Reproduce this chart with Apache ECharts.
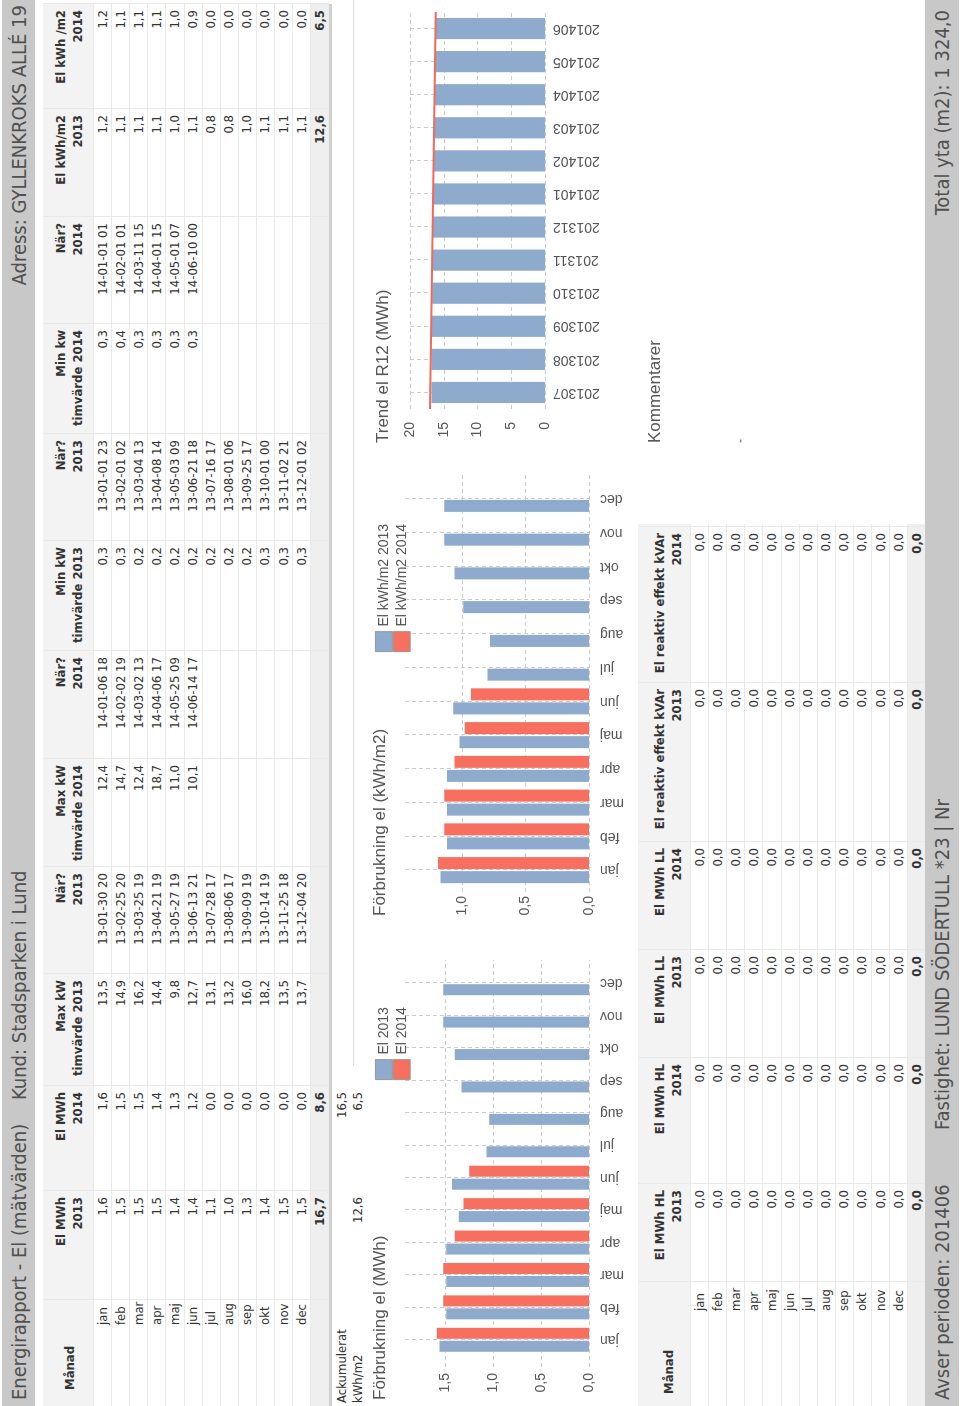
<!DOCTYPE html>
<html><head><meta charset="utf-8">
<script src="https://cdn.jsdelivr.net/npm/echarts@6/dist/echarts.min.js"></script>
<style>
html,body{margin:0;padding:0;width:960px;height:1406px;overflow:hidden;background:#fff}
#page{position:absolute;left:0;top:0;width:1406px;height:960px;transform-origin:0 0;transform:translate(0px,1406px) rotate(-90deg);background:#fff;overflow:hidden}
#chart{position:absolute;left:0;top:0;width:1406px;height:960px}
#ov{position:absolute;left:0;top:0;width:1406px;height:960px;pointer-events:none}
.t{position:absolute;white-space:nowrap;font-family:"DejaVu Sans Condensed","DejaVu Sans",sans-serif;font-stretch:condensed;color:#333}
</style></head>
<body><div id="page"><div id="ov"></div><div id="chart"></div></div>
<script>
// ---------- texts ----------
const reportTitle = 'Energirapport - El (mätvärden)';
const customerText = 'Kund: Stadsparken i Lund';
const addressText = 'Adress: GYLLENKROKS ALLÉ 19';
const periodText = 'Avser perioden: 201406';
const propertyText = 'Fastighet: LUND SÖDERTULL *23 | Nr';
const areaText = 'Total yta (m2): 1 324,0';

// ---------- table 1 ----------
const months = ['jan','feb','mar','apr','maj','jun','jul','aug','sep','okt','nov','dec'];
const t1Headers = [['Månad'],['El MWh','2013'],['El MWh','2014'],['Max kW','timvärde 2013'],['När?','2013'],['Max kW','timvärde 2014'],['När?','2014'],['Min kW','timvärde 2013'],['När?','2013'],['Min kw','timvärde 2014'],['När?','2014'],['El kWh/m2','2013'],['El kWh /m2','2014']];
const elMWh2013 = [1.6,1.5,1.5,1.5,1.4,1.4,1.1,1.0,1.3,1.4,1.5,1.5];
const elMWh2014 = [1.6,1.5,1.5,1.4,1.3,1.2,0.0,0.0,0.0,0.0,0.0,0.0];
const maxKW2013 = [13.5,14.9,16.2,14.4,9.8,12.7,13.1,13.2,16.0,18.2,13.5,13.7];
const maxKW2013When = ['13-01-30 20','13-02-25 20','13-03-25 19','13-04-21 19','13-05-27 19','13-06-13 21','13-07-28 17','13-08-06 17','13-09-09 19','13-10-14 19','13-11-25 18','13-12-04 20'];
const maxKW2014 = [12.4,14.7,12.4,18.7,11.0,10.1];
const maxKW2014When = ['14-01-06 18','14-02-02 19','14-03-02 13','14-04-06 17','14-05-25 09','14-06-14 17'];
const minKW2013 = [0.3,0.3,0.2,0.2,0.2,0.2,0.2,0.2,0.2,0.3,0.3,0.3];
const minKW2013When = ['13-01-01 23','13-02-01 02','13-03-04 13','13-04-08 14','13-05-03 09','13-06-21 18','13-07-16 17','13-08-01 06','13-09-25 17','13-10-01 00','13-11-02 21','13-12-01 02'];
const minKW2014 = [0.3,0.4,0.3,0.3,0.3,0.3];
const minKW2014When = ['14-01-01 01','14-02-01 01','14-03-11 15','14-04-01 15','14-05-01 07','14-06-10 00'];
const kWhm2_2013 = [1.2,1.1,1.1,1.1,1.0,1.1,0.8,0.8,1.0,1.1,1.1,1.1];
const kWhm2_2014 = [1.2,1.1,1.1,1.1,1.0,0.9,0.0,0.0,0.0,0.0,0.0,0.0];
const totalMWh2013 = 16.7, totalMWh2014 = 8.6, totalKWhm2_2013 = 12.6, totalKWhm2_2014 = 6.5;
const accLabel = 'Ackumulerat', accMWh2014 = 16.5;
const perM2Label = 'kWh/m2', perM2_2013 = 12.6, perM2_2014 = 6.5;

// ---------- table 2 ----------
const t2Headers = [['Månad'],['El MWh HL','2013'],['El MWh HL','2014'],['El MWh LL','2013'],['El MWh LL','2014'],['El reaktiv effekt kVAr','2013'],['El reaktiv effekt kVAr','2014']];
const elHL2013 = [0,0,0,0,0,0,0,0,0,0,0,0];
const elHL2014 = [0,0,0,0,0,0,0,0,0,0,0,0];
const elLL2013 = [0,0,0,0,0,0,0,0,0,0,0,0];
const elLL2014 = [0,0,0,0,0,0,0,0,0,0,0,0];
const kVAr2013 = [0,0,0,0,0,0,0,0,0,0,0,0];
const kVAr2014 = [0,0,0,0,0,0,0,0,0,0,0,0];
const t2Totals = [0,0,0,0,0,0];

// ---------- charts ----------
const chart1Title = 'Förbrukning el (MWh)';
const chart1Series = ['El 2013','El 2014'];
const chartMWh2013 = [1.56,1.49,1.49,1.49,1.36,1.43,1.07,1.04,1.33,1.40,1.52,1.52];
const chartMWh2014 = [1.59,1.52,1.52,1.40,1.31,1.25,0,0,0,0,0,0];
const chart2Title = 'Förbrukning el (kWh/m2)';
const chart2Series = ['El kWh/m2 2013','El kWh/m2 2014'];
const chartKWhm2_2013 = [1.17,1.12,1.12,1.12,1.02,1.07,0.80,0.78,0.99,1.06,1.14,1.14];
const chartKWhm2_2014 = [1.19,1.14,1.14,1.06,0.98,0.93,0,0,0,0,0,0];
const chart3Title = 'Trend el R12 (MWh)';
const r12Periods = ['201307','201308','201309','201310','201311','201312','201401','201402','201403','201404','201405','201406'];
const r12Values = [16.8,16.8,16.8,16.7,16.7,16.6,16.6,16.5,16.4,16.4,16.3,16.2];
const r12TrendStart = 17.05, r12TrendEnd = 16.2;
const commentsTitle = 'Kommentarer';
const commentsText = '-';

// ---------- layout helpers ----------
const ov = document.getElementById('ov');
function box(x,y,w,h,c){const d=document.createElement('div');d.style.cssText=`position:absolute;left:${x}px;top:${y}px;width:${w}px;height:${h}px;background:${c}`;ov.appendChild(d);}
function txt(s,x,y,o){o=o||{};const d=document.createElement('div');d.className='t';d.textContent=s;
  const fs=o.size||13, lh=Math.round(fs*1.3);
  d.style.fontSize=fs+'px';d.style.lineHeight=lh+'px';d.style.top=(y-lh/2)+'px';
  if(o.bold)d.style.fontWeight='bold'; if(o.color)d.style.color=o.color; if(o.font){d.style.fontFamily=o.font;d.style.fontStretch='normal';}
  if(o.align==='left'){d.style.left=x+'px';} else {d.style.left=(x-500)+'px';d.style.width='500px';d.style.textAlign='right';}
  ov.appendChild(d);}
const fmt = v => (typeof v === 'number') ? v.toFixed(1).replace('.',',') : v;

// bands
box(0,2,1406,33,'#c8c8c8');
txt(reportTitle,6,19,{size:20,align:'left',color:'#505050'});
txt(customerText,306,19,{size:20,align:'left',color:'#505050'});
txt(addressText,1401,19,{size:20,color:'#505050'});
box(0,925,1406,34,'#c8c8c8');
txt(periodText,6,942,{size:20,align:'left',color:'#505050'});
txt(propertyText,276,942,{size:20,align:'left',color:'#505050'});
txt(areaText,1396,942,{size:20,color:'#505050'});

// table 1
const t1Data = [elMWh2013,elMWh2014,maxKW2013,maxKW2013When,maxKW2014,maxKW2014When,minKW2013,minKW2013When,minKW2014,minKW2014When,kWhm2_2013,kWhm2_2014];
const t1Right = [209,314,426,533,641,749,859,966,1076,1183,1291,1396];
const t1Tot = {0:totalMWh2013,1:totalMWh2014,10:totalKWhm2_2013,11:totalKWhm2_2014};
const P = 18.1;
box(0,43,1402,50,'#f3f3f3');
box(0,310,1402,19,'#efefef');
for(let i=0;i<=12;i++) box(0,Math.round(93+i*P),1402,1,'#e9e9e9');
box(106,43,1,286,'#e9e9e9');
t1Right.forEach(x=>box(x+6,43,1,286,'#e9e9e9'));
box(0,329,1402,3,'#d0d0d0');
box(340,353,1066,1,'#dedede');
txt(t1Headers[0][0],16,69,{bold:true,align:'left'});
t1Right.forEach((x,c)=>{
  txt(t1Headers[c+1][0],x,60,{bold:true});
  txt(t1Headers[c+1][1],x,77,{bold:true});
  t1Data[c].forEach((v,i)=>txt(fmt(v),x,102+i*P));
  if(t1Tot[c]!==undefined) txt(fmt(t1Tot[c]),x,319.5,{bold:true});
});
months.forEach((m,i)=>txt(m,81,102+i*P,{align:'left'}));
txt(accLabel,3,341,{align:'left'});
txt(fmt(accMWh2014),314,341);
txt(perM2Label,3,357,{align:'left'});
txt(fmt(perM2_2013),209,357);
txt(fmt(perM2_2014),314,357);

// table 2
const t2Data = [elHL2013,elHL2014,elLL2013,elLL2014,kVAr2013,kVAr2014];
const t2Right = [216,342,450,558,717,873];
box(0,638,882,52,'#f3f3f3');
box(0,907,882,18,'#efefef');
for(let i=0;i<=12;i++) box(0,Math.round(690+i*P),882,1,'#e9e9e9');
box(124,638,1,287,'#e9e9e9');
t2Right.forEach(x=>box(x+6,638,1,287,'#e9e9e9'));
txt(t2Headers[0][0],12,668,{bold:true,align:'left'});
t2Right.forEach((x,c)=>{
  txt(t2Headers[c+1][0],x,659,{bold:true});
  txt(t2Headers[c+1][1],x,676,{bold:true});
  t2Data[c].forEach((v,i)=>txt(fmt(v),x,699+i*P));
  txt(fmt(t2Totals[c]),x,916,{bold:true});
});
months.forEach((m,i)=>txt(m,95,699+i*P,{align:'left'}));
txt(commentsText,963,740,{align:'left',size:12,color:'#555',font:'"Liberation Sans",Arial,sans-serif'});

// ---------- ECharts ----------
const FONT = '"Liberation Sans", Arial, sans-serif';
const BLUE = '#8eaacd', RED = '#f7705f';
const GRID_LINE = {color:'#cdcdcd', type:[4,3], width:1};
const labelFmt = v => v.toFixed(1).replace('.',',');
function valAxis(gi,max,interval,margin,fmtFn,showMax){
  return {gridIndex:gi,type:'value',min:0,max:max,interval:interval,
    axisLine:{show:false},axisTick:{show:false},
    axisLabel:{fontSize:14,color:'#555',margin:margin,formatter:fmtFn,showMaxLabel:showMax,fontFamily:FONT},
    splitLine:{show:true,showMaxLine:showMax,lineStyle:GRID_LINE}};
}
function hidVal(gi,max){return {gridIndex:gi,type:'value',min:0,max:max,show:false};}
function catAxis(gi,data,margin){
  return {gridIndex:gi,type:'category',data:data,
    axisLine:{show:false},axisTick:{show:false},
    axisLabel:{rotate:90,fontSize:14,color:'#555',margin:margin,interval:0,fontFamily:FONT},
    splitLine:{show:true,alignWithLabel:true,interval:0,lineStyle:GRID_LINE}};
}
const titleStyle = {fontSize:17,fontWeight:'normal',color:'#555',fontFamily:FONT};
const legendCommon = {orient:'vertical',itemGap:0,itemWidth:20,itemHeight:17,padding:0,icon:'rect',
  itemStyle:{borderColor:'#8a8a8a',borderWidth:0.8},
  textStyle:{fontSize:14,color:'#555',fontFamily:FONT,lineHeight:17}};

const chart = echarts.init(document.getElementById('chart'),null,{renderer:'canvas'});
chart.setOption({
  animation:false,
  backgroundColor:'transparent',
  textStyle:{fontFamily:FONT},
  title:[
    {text:chart1Title,left:6,top:372,padding:0,textStyle:titleStyle},
    {text:chart2Title,left:490,top:372,padding:0,textStyle:titleStyle},
    {text:chart3Title,left:963,top:375,padding:0,textStyle:titleStyle},
    {text:commentsTitle,left:963,top:647,padding:0,textStyle:titleStyle}
  ],
  legend:[
    Object.assign({data:chart1Series,left:326,top:375},legendCommon),
    Object.assign({data:chart2Series,left:754,top:375},legendCommon)
  ],
  grid:[
    {left:39,top:405,width:407,height:184,outerBoundsMode:'none'},
    {left:50,top:405,width:389,height:184,outerBoundsMode:'none'},
    {left:514,top:405,width:419,height:184,outerBoundsMode:'none'},
    {left:519,top:405,width:405,height:184,outerBoundsMode:'none'},
    {left:997,top:410,width:397,height:135,outerBoundsMode:'none'}
  ],
  xAxis:[
    hidVal(0,1),
    catAxis(1,months,11),
    hidVal(2,1),
    catAxis(3,months,11),
    catAxis(4,r12Periods,8),
    hidVal(4,1)
  ],
  yAxis:[
    valAxis(0,1.92,0.5,6,labelFmt,false),
    hidVal(1,1.92),
    valAxis(2,1.45,0.5,4,labelFmt,false),
    hidVal(3,1.45),
    valAxis(4,20,5,13,v=>String(v),true)
  ],
  series:[
    {type:'bar',name:chart1Series[0],xAxisIndex:1,yAxisIndex:1,data:chartMWh2013,barWidth:11,barGap:'18%',itemStyle:{color:BLUE}},
    {type:'bar',name:chart1Series[1],xAxisIndex:1,yAxisIndex:1,data:chartMWh2014,barWidth:11,barGap:'18%',itemStyle:{color:RED}},
    {type:'bar',name:chart2Series[0],xAxisIndex:3,yAxisIndex:3,data:chartKWhm2_2013,barWidth:12,barGap:'17%',itemStyle:{color:BLUE}},
    {type:'bar',name:chart2Series[1],xAxisIndex:3,yAxisIndex:3,data:chartKWhm2_2014,barWidth:12,barGap:'17%',itemStyle:{color:RED}},
    {type:'bar',name:'R12',xAxisIndex:4,yAxisIndex:4,data:r12Values,barWidth:'64%',itemStyle:{color:BLUE}},
    {type:'line',name:'Trend',xAxisIndex:5,yAxisIndex:4,data:[[0,r12TrendStart],[1,r12TrendEnd]],symbol:'none',lineStyle:{color:'#ef6a5a',width:2},z:5}
  ]
});
</script></body></html>
